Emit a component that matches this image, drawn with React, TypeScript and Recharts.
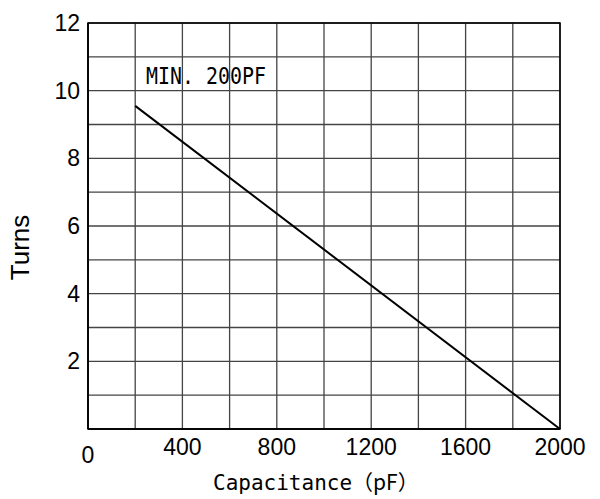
import {
  LineChart,
  Line,
  XAxis,
  YAxis,
  CartesianGrid,
  ReferenceArea,
  ReferenceDot,
  Label,
} from 'recharts';

const capacitance = [200, 2000];
const turns = [9.55, 0];
const xTicks = [0, 200, 400, 600, 800, 1000, 1200, 1400, 1600, 1800, 2000];
const yTicks = [0, 1, 2, 3, 4, 5, 6, 7, 8, 9, 10, 11, 12];
const noteText = 'MIN. 200PF';

const data = capacitance.map((c, i) => ({ c, t: turns[i] }));

const digitFont = "'Liberation Sans', Arial, sans-serif";
const monoFont = "'DejaVu Sans Mono', monospace";
const cjkFont = "'Noto Sans CJK JP', sans-serif";

const XTick = ({ x, y, payload }: any) => {
  const v = payload.value;
  if (v % 400 !== 0) return null;
  return (
    <text
      x={x}
      y={v === 0 ? y + 26 : y + 17.5}
      textAnchor="middle"
      fontSize={23}
      fontFamily={digitFont}
      fill="#000"
    >
      {v}
    </text>
  );
};

const YTick = ({ x, y, payload }: any) => {
  const v = payload.value;
  if (v === 0 || v % 2 !== 0) return null;
  return (
    <text x={x} y={y + 8} textAnchor="end" fontSize={23} fontFamily={digitFont} fill="#000">
      {v}
    </text>
  );
};

export default function App() {
  return (
    <div style={{ position: 'absolute', left: 0, top: 0, background: '#fff' }}>
      <LineChart
        width={600}
        height={499}
        data={data}
        margin={{ top: 23, right: 40, left: 0, bottom: 0 }}
      >
        <CartesianGrid stroke="#444" strokeWidth={1.3} />
        <XAxis
          dataKey="c"
          type="number"
          domain={[0, 2000]}
          ticks={xTicks}
          interval={0}
          height={70}
          tickLine={false}
          axisLine={{ stroke: '#000', strokeWidth: 1.5 }}
          tick={<XTick />}
        >
          <Label
            content={({ viewBox }: any) => (
              <text
                x={viewBox.x + 125}
                y={viewBox.y + 61}
                fontSize={21}
                fontFamily={monoFont}
                fill="#000"
              >
                Capacitance
                <tspan fontFamily={cjkFont} fontSize={21}>（pF）</tspan>
              </text>
            )}
          />
        </XAxis>
        <YAxis
          type="number"
          domain={[0, 12]}
          ticks={yTicks}
          interval={0}
          width={88}
          tickLine={false}
          axisLine={{ stroke: '#000', strokeWidth: 1.5 }}
          tick={<YTick />}
        >
          <Label
            content={() => (
              <text
                x={19.5}
                y={247.5}
                textAnchor="middle"
                fontSize={26}
                fontFamily={digitFont}
                fill="#000"
                transform="rotate(-90 19.5 247.5)"
                dominantBaseline="central"
              >
                Turns
              </text>
            )}
          />
        </YAxis>
        <ReferenceArea
          x1={0}
          x2={2000}
          y1={0}
          y2={12}
          fill="none"
          stroke="#000"
          strokeWidth={1.5}
          ifOverflow="visible"
        />
        <ReferenceDot
          x={250}
          y={10.2}
          r={1}
          fill="none"
          stroke="none"
          label={{
            content: ({ viewBox }: any) => (
              <text
                x={viewBox.x}
                y={viewBox.y + viewBox.height / 2}
                fontSize={23}
                fontFamily={monoFont}
                textLength={120}
                lengthAdjust="spacingAndGlyphs"
                fill="#000"
              >
                {noteText}
              </text>
            ),
          }}
        />
        <Line
          dataKey="t"
          stroke="#000"
          strokeWidth={2}
          dot={false}
          isAnimationActive={false}
        />
      </LineChart>
    </div>
  );
}
